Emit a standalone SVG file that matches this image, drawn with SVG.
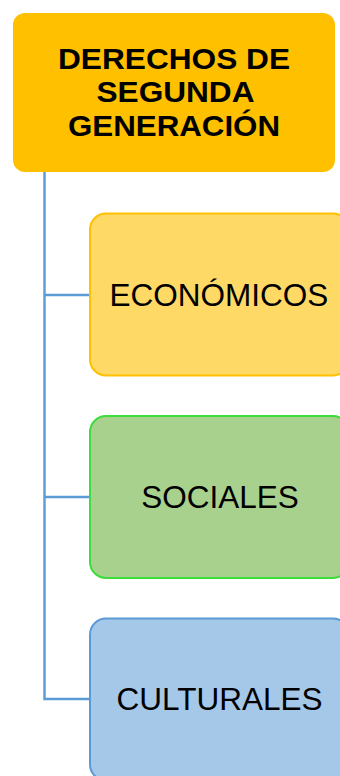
<svg xmlns="http://www.w3.org/2000/svg" width="340" height="776" viewBox="0 0 340 776">
<style>
.title{font-family:"Liberation Sans",Arial,sans-serif;font-weight:bold;font-size:30px;fill:#000;text-anchor:middle}
.lbl{font-family:"Liberation Sans",Arial,sans-serif;font-size:31.5px;fill:#000;text-anchor:middle}
.conn{stroke:#5B9BD5;stroke-width:2.4;fill:none}
</style>
<rect width="340" height="776" fill="#ffffff"/>
<g id="connectors">
<path class="conn" d="M44.5,172 V699 H90"/>
<path class="conn" d="M44.5,295 H90"/>
<path class="conn" d="M44.5,497 H90"/>
</g>
<g id="title">
<rect x="13" y="13" width="322" height="159" rx="12" fill="#FFC000"/>
<text class="title" x="174" y="68.5" textLength="232" lengthAdjust="spacingAndGlyphs">DERECHOS DE</text>
<text class="title" x="175.5" y="102" textLength="158" lengthAdjust="spacingAndGlyphs">SEGUNDA</text>
<text class="title" x="174" y="135.5" textLength="212" lengthAdjust="spacingAndGlyphs">GENERACIÓN</text>
</g>
<g id="economicos">
<rect x="90" y="213.5" width="259" height="162" rx="16" fill="#FFD966" stroke="#FFC000" stroke-width="2"/>
<text class="lbl" x="219" y="305.5">ECONÓMICOS</text>
</g>
<g id="sociales">
<rect x="90" y="416" width="259" height="162" rx="16" fill="#A9D18E" stroke="#3CDC3C" stroke-width="2"/>
<text class="lbl" x="220" y="507.5">SOCIALES</text>
</g>
<g id="culturales">
<rect x="90" y="618.5" width="259" height="162" rx="16" fill="#A6C8E8" stroke="#5B9BD5" stroke-width="2"/>
<text class="lbl" x="219.5" y="709.5">CULTURALES</text>
</g>
</svg>
